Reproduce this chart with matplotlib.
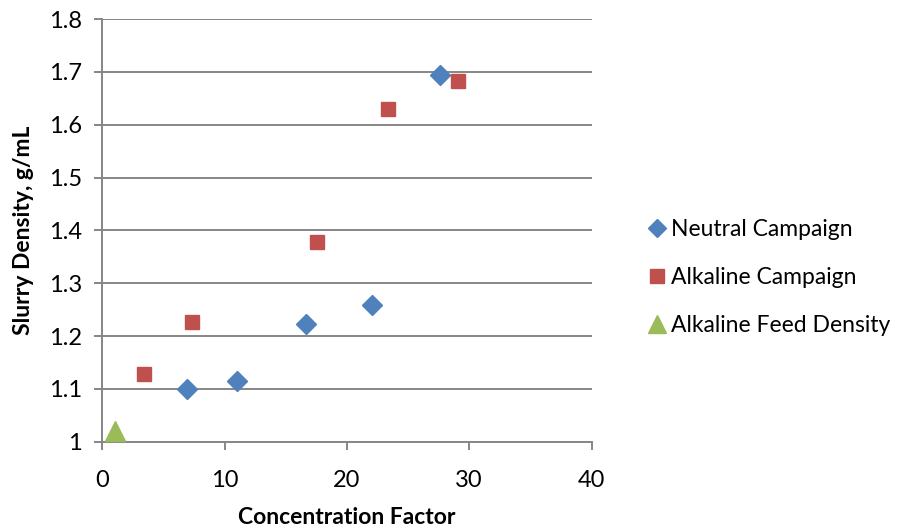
import matplotlib.pyplot as plt
from matplotlib.lines import Line2D

plt.rcParams['font.family'] = ['Lato', 'DejaVu Sans']

# neutral campaign
neutral_cf = [6.96, 10.98, 16.63, 22.09, 27.63]
neutral_density = [1.100, 1.115, 1.222, 1.258, 1.694]

# alkaline campaign
alkaline_cf = [3.42, 7.34, 17.52, 23.34, 29.1]
alkaline_density = [1.129, 1.226, 1.379, 1.629, 1.682]

# alkaline feed
feed_cf = [1.0]
feed_density = [1.02]

blue = '#4F81BD'
red = '#C0504D'
green = '#9BBB59'
grey = '#868686'

fig = plt.figure(figsize=(9.06, 5.31), dpi=100)
ax = fig.add_axes([0.1129, 0.168, 0.540, 0.796])

ax.plot(neutral_cf, neutral_density, 'D', color=blue, ms=10.2, mec=blue, ls='none', clip_on=False, zorder=3)
ax.plot(alkaline_cf, alkaline_density, 's', color=red, ms=10.5, mec=red, ls='none', clip_on=False, zorder=3)
ax.plot(feed_cf, feed_density, '^', color=green, ms=14, mec=green, ls='none', clip_on=False, zorder=3)

ax.set_xlim(0, 40)
ax.set_ylim(1, 1.8)
ax.set_xticks([0, 10, 20, 30, 40])
ax.set_yticks([1, 1.1, 1.2, 1.3, 1.4, 1.5, 1.6, 1.7, 1.8])
ax.set_yticklabels(['1', '1.1', '1.2', '1.3', '1.4', '1.5', '1.6', '1.7', '1.8'])
ax.yaxis.grid(True, color=grey, lw=1.4)
ax.set_axisbelow(True)
for s in ['top', 'right']:
    ax.spines[s].set_visible(False)
for s in ['left', 'bottom']:
    ax.spines[s].set_color(grey)
    ax.spines[s].set_linewidth(1.4)
ax.tick_params(axis='both', color=grey, width=1.4, length=5.5, labelsize=17)
ax.tick_params(axis='x', pad=15)
ax.tick_params(axis='y', pad=9)

ax.set_xlabel('Concentration Factor', fontsize=16.5, fontweight='bold', labelpad=11)
ax.set_ylabel('Slurry Density, g/mL', fontsize=16.5, fontweight='bold', labelpad=11)

handles = [
    Line2D([], [], marker='D', color=blue, ls='none', ms=9.5),
    Line2D([], [], marker='s', color=red, ls='none', ms=10),
    Line2D([], [], marker='^', color=green, ls='none', ms=13),
]
labels = ['Neutral Campaign', 'Alkaline Campaign', 'Alkaline Feed Density']
fig.legend(handles, labels, loc='center left', bbox_to_anchor=(0.703, 0.477),
           frameon=False, fontsize=16.5, handlelength=0.75, handletextpad=0.25,
           labelspacing=1.18, borderpad=0)

fig.savefig('out.png', dpi=100)
